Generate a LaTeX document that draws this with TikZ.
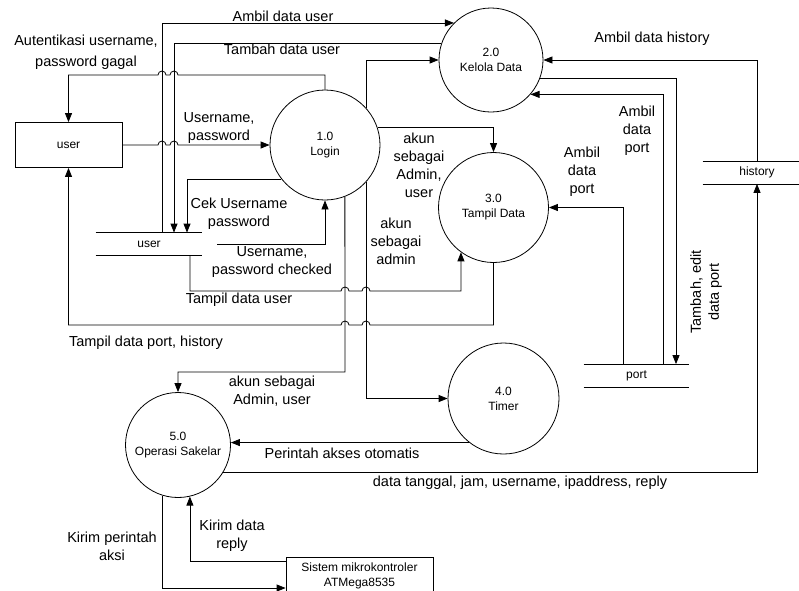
\documentclass[tikz,border=0pt]{standalone}
\usepackage{fontspec}
\setmainfont{Liberation Sans}
\usetikzlibrary{arrows.meta}
\newcommand{\lblfont}{\fontsize{14.5}{18}\selectfont}
\newcommand{\procfont}{\fontsize{12}{15}\selectfont}
\newcommand{\hopR}[2]{-- (#1-4,#2) arc (180:360:4)}
\newcommand{\hopL}[2]{-- (#1+4,#2) arc (0:-180:4)}
\tikzset{
  proc/.style={draw, circle, inner sep=0pt, align=center, font=\procfont},
  extent/.style={draw, rectangle, inner sep=0pt, align=center, font=\procfont},
  store/.style={inner sep=0pt, minimum height=22pt, font=\procfont,
    append after command={(\tikzlastnode.north west) edge (\tikzlastnode.north east)
      (\tikzlastnode.south west) edge (\tikzlastnode.south east)}},
  flow/.style={-{Triangle[length=9pt,width=7pt]}},
  lbl/.style={font=\lblfont, align=center, inner sep=0pt},
}
\begin{document}
\begin{tikzpicture}[x=1pt,y=-1pt,line width=0.8pt]
\fill[white] (0,0) rectangle (799,590);
\useasboundingbox (0,0) rectangle (799,590);
\node[proc, minimum size=110pt] (login) at (325,145) {1.0\\Login};
\node[proc, minimum size=104pt] (kelola) at (491,60) {2.0\\Kelola Data};
\node[proc, minimum size=110pt] (tampil) at (493.5,207.5) {3.0\\Tampil Data};
\node[proc, minimum size=111pt] (timer) at (503.5,398.5) {4.0\\Timer};
\node[proc, minimum size=105pt] (operasi) at (178,445) {5.0\\Operasi Sakelar};
\node[extent, minimum width=107pt, minimum height=45pt] (userext) at (68.5,145) {user};
\node[extent, minimum width=147pt, minimum height=38pt] (mikro) at (359.5,576) {Sistem mikrokontroler\\ATMega8535};
\node[store, minimum width=106pt] (ustore) at (149,244) {user};
\node[store, minimum width=105pt] (pstore) at (636.5,375.5) {port};
\node[store, minimum width=108pt] (hstore) at (757,172.5) {history};
\coordinate (colA) at (162,0);
\coordinate (colB) at (174,0);
\coordinate (colC) at (187,0);
\coordinate (colD) at (190,0);
\coordinate (colE) at (345,0);
\coordinate (colG) at (623,0);
\coordinate (colH) at (663,0);
\coordinate (colI) at (676,0);
\coordinate (rowA) at (0,75);
\coordinate (rowU) at (0,291);
\coordinate (rowP) at (0,325);
\coordinate (rowO) at (0,372);
\draw[flow] (userext.east) \hopR{162}{145} \hopR{174}{145} -- (login.west);
\draw[flow] (login.north) -- (login.north |- rowA) \hopL{174}{75} \hopL{162}{75} -| (userext.north);
\draw[flow] (colA |- ustore.north) |- (kelola.135);
\draw[flow] (kelola.161) -| (colB |- ustore.north);
\draw[flow] (login.218) -| (colC |- ustore.north);
\draw[flow] ([xshift=15pt]ustore.east) -| (login.south);
\draw[flow] (colD |- ustore.south) -- (colD |- rowU) \hopR{345}{291} \hopR{366}{291} -| (tampil.234);
\draw[flow] (tampil.south) -- (tampil.south |- rowP) \hopL{366}{325} \hopL{345}{325} -| (userext.south);
\draw[flow] (login.18) -| (tampil.north);
\draw[flow] (login.42) |- (kelola.west);
\draw[flow] (login.-42) |- (timer.west);
\draw[flow] (login.-69) -- (colE |- rowO) -| (operasi.north);
\draw[flow] (hstore.north) |- (kelola.east);
\draw[flow] (kelola.-21) -| (colI |- pstore.north);
\draw[flow] (colH |- pstore.north) |- (kelola.-41);
\draw[flow] (colG |- pstore.north) |- (tampil.east);
\draw[flow] (timer.232) -- (timer.232 -| operasi.east);
\draw[flow] (operasi.-31) -| (hstore.south);
\draw[flow] (operasi.-107) |- ([yshift=-12pt]mikro.west);
\draw[flow] ([yshift=15pt]mikro.west) -| (operasi.-77);
\node[lbl] (lAmbilUser) at (283,16) {Ambil data user};
\node[lbl] (lTambahUser) at (282,49) {Tambah data user};
\node[lbl, font=\fontsize{14.5}{21}\selectfont] (lGagal) at (86,52) {Autentikasi username,\\password gagal};
\node[lbl] (lUserPass) at (219,128) {Username,\\password};
\node[lbl] (lCek) at (239,214) {Cek Username\\password};
\node[lbl] (lChecked) at (272,262) {Username,\\password checked};
\node[lbl] (lTampilUser) at (239,300) {Tampil data user};
\node[lbl] (lTampilPort) at (146,343) {Tampil data port, history};
\node[lbl] (lAdminUser) at (419,165) {akun\\sebagai\\Admin,\\user};
\node[lbl] (lAdmin) at (396,241) {akun\\sebagai\\admin};
\node[lbl] (lPortTampil) at (582,172) {Ambil\\data\\port};
\node[lbl] (lPortKelola) at (637,131) {Ambil\\data\\port};
\node[lbl, rotate=90] (lEditPort) at (706,292) {Tambah, edit\\data port};
\node[lbl] (lHistory) at (652,39) {Ambil data history};
\node[lbl] (lOperasi) at (272,391) {akun sebagai\\Admin, user};
\node[lbl] (lOtomatis) at (342,453) {Perintah akses otomatis};
\node[lbl] (lLog) at (520,483) {data tanggal, jam, username, ipaddress, reply};
\node[lbl] (lAksi) at (112,546) {Kirim perintah\\aksi};
\node[lbl] (lReply) at (232,536) {Kirim data\\reply};
\end{tikzpicture}
\end{document}
